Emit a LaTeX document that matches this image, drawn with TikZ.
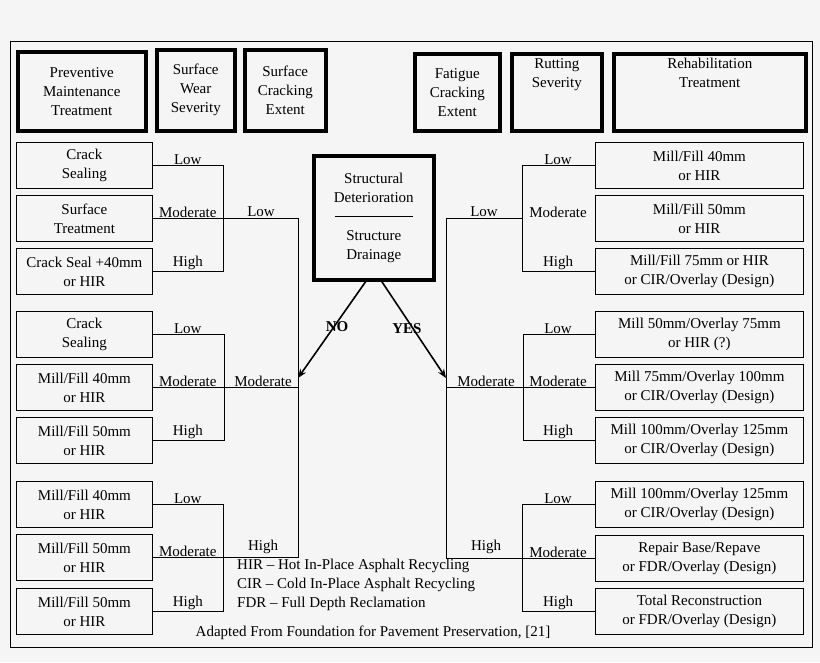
\documentclass[tikz,border=0pt]{standalone}
\usepackage{fontspec}
\setmainfont{Liberation Serif}
\usetikzlibrary{arrows.meta}
\tikzset{
  head/.style = {draw, line width=3.5pt, align=center, inner sep=0pt, anchor=north west},
  opt/.style = {draw, line width=0.8pt, align=center, inner sep=0pt, minimum width=136pt, minimum height=46pt, anchor=north west},
  ropt/.style = {opt, minimum width=208pt},
  lvl/.style = {above, inner sep=1pt},
  line/.style = {draw, line width=0.8pt},
  arr/.style = {draw, line width=1.6pt, -{Stealth[length=9pt,width=7pt]}},
}
\begin{document}
\begin{tikzpicture}[x=1pt,y=-1pt,font=\fontsize{15}{19}\selectfont]
\useasboundingbox [fill=black!4] (0,0) rectangle (820,662);
\draw [line width=0.8pt] (10,41) rectangle (812,647);

% headers
\node [head, minimum width=128pt, minimum height=79pt] (pmt) at (16,50) {Preventive\\Maintenance\\Treatment};
\node [head, minimum width=78pt, minimum height=81pt] (sws) at (155,48) {Surface\\Wear\\Severity};
\node [head, minimum width=81pt, minimum height=81pt] (sce) at (243,48) {Surface\\Cracking\\Extent};
\node [head, minimum width=85pt, minimum height=77pt] (fce) at (413,52) {Fatigue\\Cracking\\Extent};
\node [head, minimum width=90pt, minimum height=77pt] (rs) at (510,52) {Rutting\\Severity\\[19pt]};
\node [head, minimum width=192pt, minimum height=77pt] (rt) at (612,52) {Rehabilitation\\Treatment\\[19pt]};

% center
\node [head, minimum width=120pt, minimum height=124pt] (sd) at (312,154) {Structural\\Deterioration\\\rule[4pt]{78pt}{1pt}\\Structure\\Drainage};

% left options
\foreach \n/\y/\t in {a1/142/{Crack\\Sealing}, a2/195/{Surface\\Treatment}, a3/248/{Crack Seal +40mm\\or HIR},
  b1/311/{Crack\\Sealing}, b2/364/{Mill/Fill 40mm\\or HIR}, b3/417/{Mill/Fill 50mm\\or HIR},
  c1/481/{Mill/Fill 40mm\\or HIR}, c2/534/{Mill/Fill 50mm\\or HIR}, c3/588/{Mill/Fill 50mm\\or HIR}}
  \node [opt] (\n) at (16,\y) {\t};

% right options
\foreach \n/\y/\t in {d1/142/{Mill/Fill 40mm\\or HIR}, d2/195/{Mill/Fill 50mm\\or HIR}, d3/248/{Mill/Fill 75mm or HIR\\or CIR/Overlay (Design)},
  e1/311/{Mill 50mm/Overlay 75mm\\or HIR (?)}, e2/364/{Mill 75mm/Overlay 100mm\\or CIR/Overlay (Design)}, e3/417/{Mill 100mm/Overlay 125mm\\or CIR/Overlay (Design)},
  f1/481/{Mill 100mm/Overlay 125mm\\or CIR/Overlay (Design)}, f2/535/{Repair Base/Repave\\or FDR/Overlay (Design)}, f3/588/{Total Reconstruction\\or FDR/Overlay (Design)}}
  \node [ropt] (\n) at (595,\y) {\t};

% left brackets
\foreach \g/\x in {a/223, b/224, c/223} {
  \path [line] (\g1.east) -- (\x,0 |- \g1.east) -- (\x,0 |- \g3.east) -- (\g3.east);
  \node [lvl] at ([xshift=35pt]\g1.east) {Low};
  \node [lvl] at ([xshift=35pt]\g2.east) {Moderate};
  \node [lvl] at ([xshift=35pt]\g3.east) {High};
}
\coordinate (lx) at (298,0);
\path [line] (a2.east) -- (lx |- a2.east) -- (lx |- c2.east) -- (c2.east);
\path [line] (b2.east) -- (lx |- b2.east);
\node [lvl] at (261,218) {Low};
\node [lvl] at (263,388) {Moderate};
\node [lvl] at (263,555) {High};

% right brackets
\foreach \g/\x in {d/522, e/523, f/522} {
  \path [line] (\g1.west) -- (\x,0 |- \g1.west) -- (\x,0 |- \g3.west) -- (\g3.west);
  \node [lvl] at ([xshift=-37pt]\g1.west) {Low};
  \node [lvl] at ([xshift=-37pt]\g2.west) {Moderate};
  \node [lvl] at ([xshift=-37pt]\g3.west) {High};
}
\coordinate (rx) at (446,0);
\path [line] (522,0 |- d2.west) -- (rx |- d2.west) -- (rx |- f2.west) -- (f2.west);
\path [line] (rx |- e2.west) -- (e2.west);
\node [lvl] at (484,218) {Low};
\node [lvl] at (486,388) {Moderate};
\node [lvl] at (486,555) {High};

% decision arrows
\coordinate (no) at (298,378);
\coordinate (yes) at (446,378);
\path [arr] ([xshift=-8pt]sd.south) -- (no);
\path [arr] ([xshift=8pt]sd.south) -- (yes);
\node [font=\fontsize{15}{19}\selectfont\bfseries] at (337,327) {NO};
\node [font=\fontsize{15}{19}\selectfont\bfseries] at (407,329) {YES};

% legend
\node [anchor=north west, align=left, inner sep=0pt] (legend) at (237,559) {HIR -- Hot In-Place Asphalt Recycling\\CIR -- Cold In-Place Asphalt Recycling\\FDR -- Full Depth Reclamation};
\node (src) at (373,633) {Adapted From Foundation for Pavement Preservation, [21]};
\end{tikzpicture}
\end{document}
